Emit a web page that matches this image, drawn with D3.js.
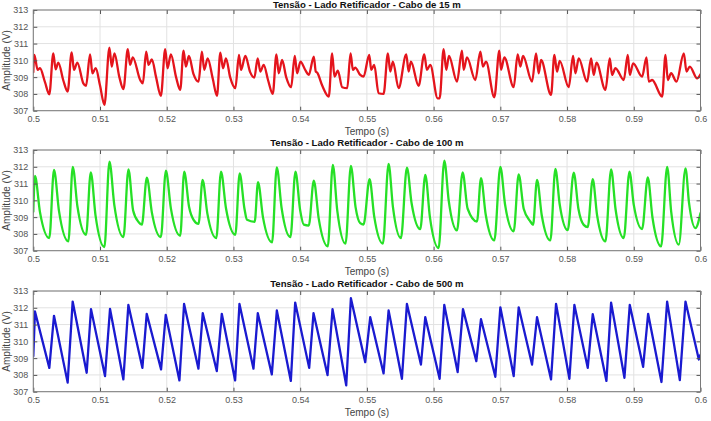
<!DOCTYPE html>
<html>
<head>
<meta charset="utf-8">
<script src="https://cdn.jsdelivr.net/npm/d3@7"></script>
<style>
  html, body { margin: 0; padding: 0; background: #ffffff; }
  svg { display: block; }
  text { font-family: "Liberation Sans", Arial, Helvetica, sans-serif; }
</style>
</head>
<body>
<div id="chart"></div>
<script>
// ---------- data ----------
const xTicks = [0.5, 0.51, 0.52, 0.53, 0.54, 0.55, 0.56, 0.57, 0.58, 0.59, 0.6];
const xTickLabels = ["0.5", "0.51", "0.52", "0.53", "0.54", "0.55", "0.56", "0.57", "0.58", "0.59", "0.6"];
const yTicks = [307, 308, 309, 310, 311, 312, 313];
const titles = [
  "Tensão - Lado Retificador - Cabo de 15 m",
  "Tensão - Lado Retificador - Cabo de 100 m",
  "Tensão - Lado Retificador - Cabo de 500 m"
];
const xLabel = "Tempo (s)";
const yLabel = "Amplitude (V)";

// Cabo de 15 m  [time (s), voltage (V)]
const red15 = [
  [0.5000,309.30],[0.50015,310.32],[0.50065,309.43],[0.5010,309.53],[0.50175,308.70],[0.5024,307.98],
  [0.5030,310.42],[0.50335,309.47],[0.50375,309.87],[0.5045,308.80],[0.50515,308.14],
  [0.50575,310.48],[0.5061,309.43],[0.5066,309.87],[0.5075,308.63],[0.5079,308.48],
  [0.50851,310.36],[0.50886,309.23],[0.50936,309.53],[0.5100,308.50],[0.51066,307.35],
  [0.51141,310.76],[0.51176,309.63],[0.51216,310.42],[0.5129,309.00],[0.51351,308.28],
  [0.51416,310.66],[0.51451,309.73],[0.51491,310.18],[0.51602,308.83],[0.51642,308.63],
  [0.51692,310.52],[0.51727,309.73],[0.51777,310.06],[0.5184,309.00],[0.51912,307.88],
  [0.51977,310.66],[0.52012,309.53],[0.52062,310.36],[0.5214,309.00],[0.52202,308.24],
  [0.52252,310.58],[0.52287,309.63],[0.52332,310.26],[0.5240,309.20],[0.52477,308.73],
  [0.52527,310.52],[0.52562,309.43],[0.52613,310.12],[0.5269,308.90],[0.52753,307.88],
  [0.52803,310.46],[0.52843,309.53],[0.52888,310.12],[0.5295,309.00],[0.53028,308.34],
  [0.53083,310.32],[0.53113,309.43],[0.53178,310.26],[0.5325,309.30],[0.53313,308.97],
  [0.53363,310.12],[0.53403,309.33],[0.53453,309.73],[0.5352,308.80],[0.53589,308.00],
  [0.53644,310.36],[0.53679,309.23],[0.53729,310.02],[0.5379,309.00],[0.53864,308.40],
  [0.53919,310.26],[0.53954,309.23],[0.54004,309.92],[0.5408,309.40],[0.54129,309.13],
  [0.54204,310.22],[0.54234,309.33],[0.54254,309.27],[0.5433,308.50],[0.54429,307.84],
  [0.54479,310.42],[0.54514,309.03],[0.54564,309.39],[0.5463,308.40],[0.54705,308.34],
  [0.54755,310.42],[0.5479,309.43],[0.54825,309.57],[0.5490,309.13],[0.5495,309.03],
  [0.55035,310.32],[0.55065,309.43],[0.5511,309.73],[0.55175,308.04],[0.5525,308.00],
  [0.55315,310.42],[0.5535,309.33],[0.5539,309.92],[0.55475,308.34],
  [0.5559,310.36],[0.55625,309.33],[0.5566,309.92],[0.55775,308.48],
  [0.5586,310.36],[0.5590,309.43],[0.5595,309.73],[0.5606,307.74],[0.5609,307.74],
  [0.5615,310.66],[0.5619,309.43],[0.5623,310.26],[0.5635,308.73],
  [0.56425,310.58],[0.5645,309.43],[0.5650,310.18],[0.56625,308.83],
  [0.5670,310.52],[0.5674,309.63],[0.56785,309.92],[0.5691,307.80],
  [0.56985,310.58],[0.5701,309.43],[0.5706,310.18],[0.5720,308.40],
  [0.5726,310.36],[0.5730,309.63],[0.5734,310.26],[0.57475,308.73],
  [0.57535,310.42],[0.57575,309.23],[0.5761,310.02],[0.5776,307.94],
  [0.5781,310.32],[0.5785,309.33],[0.5789,309.97],[0.58025,308.40],
  [0.5809,310.26],[0.58125,309.23],[0.58175,310.12],[0.5830,308.73],
  [0.5836,310.12],[0.5840,309.13],[0.5844,309.87],[0.58575,308.24],
  [0.5864,310.12],[0.58675,309.13],[0.58725,309.53],[0.5885,308.83],
  [0.5891,310.32],[0.5894,309.13],[0.5899,309.82],[0.59125,309.03],
  [0.5919,310.18],[0.59225,308.73],[0.59275,308.83],[0.59425,307.84],
  [0.59475,310.32],[0.5951,308.83],[0.5956,309.23],[0.5964,308.73],
  [0.5975,310.42],[0.5979,309.33],[0.5984,309.63],[0.5995,308.93],[0.6000,309.17]
];

// Cabo de 100 m
const green100 = [
  [0.5000,309.33],[0.50025,311.45],[0.5010,309.30],[0.5024,307.75],
  [0.5031,311.81],[0.50386,309.34],[0.50526,307.55],
  [0.50591,312.00],[0.50661,309.65],[0.50791,307.95],
  [0.50861,311.67],[0.50933,309.09],[0.51066,307.22],
  [0.51141,312.30],[0.51215,309.70],[0.51351,307.81],
  [0.51426,311.85],[0.51496,309.40],[0.5158,308.70],[0.51627,308.55],
  [0.51702,311.36],[0.51776,309.30],[0.51912,307.81],
  [0.51987,311.77],[0.52062,309.52],[0.52202,307.89],
  [0.52262,311.71],[0.52335,309.60],[0.52402,308.84],[0.52477,308.60],
  [0.52537,311.22],[0.52609,309.21],[0.52743,307.75],
  [0.52813,311.71],[0.52888,309.53],[0.53028,307.95],
  [0.53093,311.61],[0.53165,309.50],[0.53203,308.84],[0.53318,308.72],
  [0.53368,311.08],[0.53442,309.00],[0.53579,307.50],
  [0.53649,311.97],[0.53721,309.56],[0.53854,307.81],
  [0.53929,311.71],[0.5400,309.40],[0.54054,308.55],[0.54129,308.50],
  [0.54204,311.18],[0.54278,308.91],[0.54414,307.26],
  [0.54489,312.11],[0.54556,309.39],[0.5468,307.42],
  [0.5476,312.05],[0.5483,309.60],[0.5490,308.64],[0.5495,308.56],
  [0.5504,311.26],[0.5511,309.03],[0.5524,307.42],
  [0.55325,312.17],[0.5539,309.61],[0.5551,307.75],
  [0.5560,311.95],[0.5567,309.83],[0.5580,308.29],
  [0.55875,311.51],[0.55945,308.99],[0.56075,307.16],
  [0.5616,312.37],[0.56227,309.96],[0.5635,308.21],
  [0.56435,311.67],[0.5651,309.50],[0.5665,308.74],
  [0.5671,311.32],[0.5678,309.17],[0.5691,307.61],
  [0.5700,312.00],[0.5707,309.77],[0.5720,308.15],
  [0.57275,311.55],[0.5735,309.50],[0.5745,308.74],[0.5749,308.54],
  [0.5755,311.22],[0.5762,309.13],[0.5775,307.61],
  [0.57825,311.87],[0.5789,309.75],[0.5801,308.22],
  [0.5810,311.65],[0.5817,309.50],[0.5825,308.54],[0.5831,308.41],
  [0.58385,311.26],[0.5845,309.11],[0.58575,307.55],
  [0.5866,311.85],[0.58727,309.47],[0.5885,307.75],
  [0.58935,311.71],[0.5900,309.73],[0.59125,308.29],
  [0.5921,311.36],[0.5928,308.98],[0.5941,307.26],
  [0.5950,312.00],[0.59561,309.31],[0.59675,307.36],
  [0.59775,311.91],[0.59828,309.85],[0.59925,308.35],[0.6000,309.24]
];

// Cabo de 500 m
const blue500 = [
  [0.5000,309.11],[0.50025,311.78],[0.5024,308.42],[0.5031,311.52],[0.50515,307.54],
  [0.5059,312.37],[0.5080,308.13],[0.50865,311.92],[0.51075,307.93],
  [0.5115,311.93],[0.5135,307.73],[0.51425,312.17],[0.51635,308.42],
  [0.5170,311.64],[0.51915,308.33],[0.51985,311.58],[0.5219,307.67],
  [0.5226,312.23],[0.52475,308.37],[0.5254,311.68],[0.5275,308.23],
  [0.52825,311.64],[0.53025,307.67],[0.5309,312.23],[0.5330,308.37],
  [0.53365,311.68],[0.53575,308.03],[0.5365,311.84],[0.5386,307.64],
  [0.53925,312.31],[0.54135,308.42],[0.5420,311.68],[0.5441,307.99],
  [0.54485,311.92],[0.5469,307.38],[0.5476,312.57],[0.54975,308.76],
  [0.5505,311.44],[0.5525,308.09],[0.55325,311.84],[0.55525,307.77],
  [0.5560,312.23],[0.5581,308.62],[0.55875,311.44],[0.5609,307.77],
  [0.5616,312.17],[0.5636,308.17],[0.5644,311.92],[0.5664,308.82],
  [0.5671,311.32],[0.56925,307.89],[0.5700,312.03],[0.5720,307.93],
  [0.57275,312.03],[0.57475,308.62],[0.5755,311.44],[0.5776,307.73],
  [0.57835,312.23],[0.58035,307.77],[0.5811,312.17],[0.5831,308.42],
  [0.58385,311.62],[0.5859,307.64],[0.5866,312.31],[0.5886,307.83],
  [0.5894,312.17],[0.5914,308.48],[0.59215,311.64],[0.59415,307.58],
  [0.5950,312.37],[0.5969,307.69],[0.59775,312.37],[0.59975,308.92],[0.6000,309.21]
];

const seriesList = [red15, green100, blue500];
const seriesColors = ["#e4141c", "#26e026", "#1a1ad0"];
const seriesCurves = [d3.curveMonotoneX, d3.curveMonotoneX, d3.curveLinear];

// ---------- layout ----------
const W = 711, H = 421;
const left = 33.3, right = 700.5;
const panelTops = [10, 150, 291];
const panelH = 100.7;
const titleY = [8.3, 146, 287];

const svg = d3.select("#chart").append("svg")
  .attr("width", W).attr("height", H);

const x = d3.scaleLinear().domain([0.5, 0.6]).range([left, right]);

panelTops.forEach((top, i) => {
  const bottom = top + panelH;
  const y = d3.scaleLinear().domain([307, 313]).range([bottom, top]);
  const g = svg.append("g");

  g.append("rect").attr("x", left).attr("y", top)
    .attr("width", right - left).attr("height", panelH).attr("fill", "#fff");

  // grid
  g.append("g").selectAll("line").data(xTicks).join("line")
    .attr("x1", d => x(d)).attr("x2", d => x(d))
    .attr("y1", top).attr("y2", bottom)
    .attr("stroke", "#e2e2e2").attr("stroke-width", 1);
  g.append("g").selectAll("line").data(yTicks).join("line")
    .attr("x1", left).attr("x2", right)
    .attr("y1", d => y(d)).attr("y2", d => y(d))
    .attr("stroke", "#e2e2e2").attr("stroke-width", 1);

  const clipId = "clip" + i;
  svg.append("clipPath").attr("id", clipId).append("rect")
    .attr("x", left).attr("y", top - 2).attr("width", right - left).attr("height", panelH + 4);

  const line = d3.line().x(d => x(d[0])).y(d => y(d[1])).curve(seriesCurves[i]);
  g.append("path").datum(seriesList[i])
    .attr("clip-path", `url(#${clipId})`)
    .attr("d", line)
    .attr("fill", "none")
    .attr("stroke", seriesColors[i])
    .attr("stroke-width", 2.3)
    .attr("stroke-linejoin", "round")
    .attr("stroke-linecap", "round");

  const fmt = (d) => xTickLabels[xTicks.indexOf(d)];
  const axB = g.append("g").attr("transform", `translate(0,${bottom})`)
    .call(d3.axisBottom(x).tickValues(xTicks).tickFormat(fmt).tickSize(-4).tickSizeOuter(0).tickPadding(5));
  const axT = g.append("g").attr("transform", `translate(0,${top})`)
    .call(d3.axisTop(x).tickValues(xTicks).tickFormat("").tickSize(-4).tickSizeOuter(0));
  const axL = g.append("g").attr("transform", `translate(${left},0)`)
    .call(d3.axisLeft(y).tickValues(yTicks).tickFormat(d3.format("d")).tickSize(-4).tickSizeOuter(0).tickPadding(5));
  const axR = g.append("g").attr("transform", `translate(${right},0)`)
    .call(d3.axisRight(y).tickValues(yTicks).tickFormat("").tickSize(-4).tickSizeOuter(0));
  [axB, axT, axL, axR].forEach(a => {
    a.select(".domain").remove();
    a.selectAll(".tick line").attr("stroke", "#555").attr("stroke-width", 1);
    a.selectAll(".tick text").attr("fill", "#555").style("font-size", "9px");
  });

  g.append("rect").attr("x", left).attr("y", top)
    .attr("width", right - left).attr("height", panelH)
    .attr("fill", "none").attr("stroke", "#7a7a7a").attr("stroke-width", 1);

  g.append("text").attr("x", (left + right) / 2).attr("y", titleY[i])
    .attr("text-anchor", "middle")
    .style("font-size", "9.6px").style("font-weight", "bold").attr("fill", "#111")
    .text(titles[i]);

  g.append("text").attr("x", (left + right) / 2).attr("y", bottom + 24)
    .attr("text-anchor", "middle")
    .style("font-size", "10px").attr("fill", "#444")
    .text(xLabel);

  g.append("text")
    .attr("transform", `translate(10,${(top + bottom) / 2}) rotate(-90)`)
    .attr("text-anchor", "middle")
    .style("font-size", "10px").attr("fill", "#444")
    .text(yLabel);
});
</script>
</body>
</html>
